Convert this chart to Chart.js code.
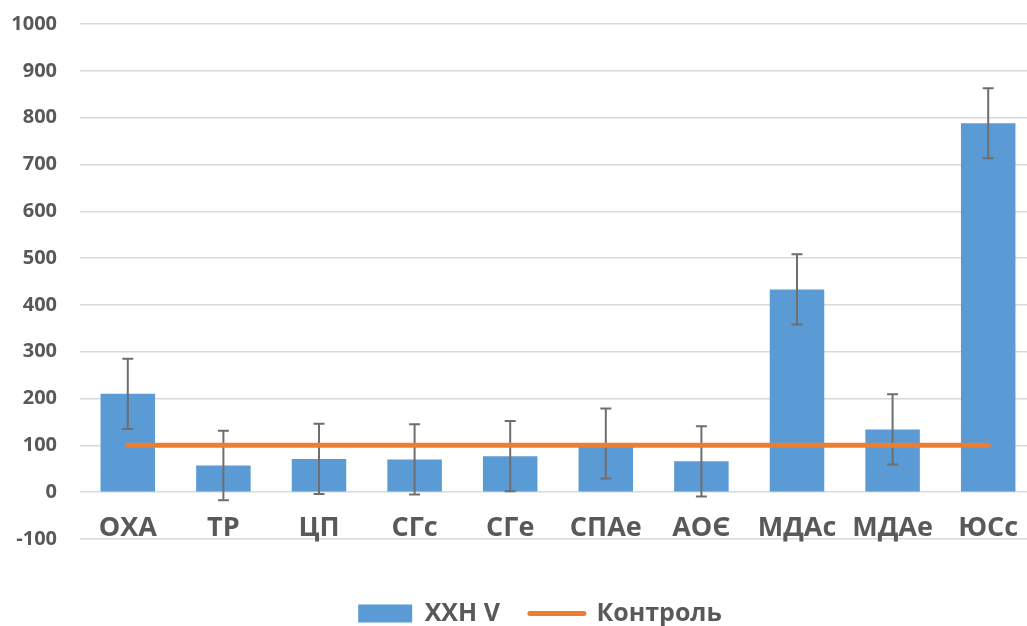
<!DOCTYPE html>
<html><head><meta charset="utf-8">
<script src="https://cdn.jsdelivr.net/npm/chart.js@4"></script>
<style>html,body{margin:0;padding:0;overflow:hidden;background:#fff}#wrap{width:1084px;height:640px;position:relative}</style>
</head><body><div id="wrap"><canvas id="c" style="width:1084px;height:640px"></canvas></div>
<script>
const categories = ['ОХА','ТР','ЦП','СГс','СГе','СПАе','АОЄ','МДАс','МДАе','ЮСс'];
const seriesValues = [210, 57, 71, 70, 77, 104, 66, 433, 134, 788];
const errorValues = [75, 74, 75, 75, 75, 75, 75, 75, 75, 75];
const controlValues = [100, 100, 100, 100, 100, 100, 100, 100, 100, 100];
const seriesNames = ['ХХН V', 'Контроль'];
const yMin = -100, yMax = 1000, yStep = 100;

const TEXT = '#595959';
const BLUE = '#5B9BD5';
const ORANGE = '#ED7D31';

const errorBarPlugin = {
  id: 'errorBars',
  afterDatasetDraw(chart, args) {
    if (args.index !== 0) return;
    const ctx = chart.ctx, y = chart.scales.y;
    ctx.save();
    ctx.strokeStyle = '#6e6e6e';
    ctx.lineWidth = 2;
    args.meta.data.forEach((bar, i) => {
      const x = bar.x;
      const top = y.getPixelForValue(seriesValues[i] + errorValues[i]);
      const bot = y.getPixelForValue(seriesValues[i] - errorValues[i]);
      ctx.beginPath();
      ctx.moveTo(x, top); ctx.lineTo(x, bot);
      ctx.moveTo(x - 5.5, top); ctx.lineTo(x + 5.5, top);
      ctx.moveTo(x - 5.5, bot); ctx.lineTo(x + 5.5, bot);
      ctx.stroke();
    });
    ctx.restore();
  }
};

const noPad = (s) => { s.paddingTop = 0; s.paddingBottom = 0; s.paddingLeft = 0; s.paddingRight = 0; };

new Chart(document.getElementById('c'), {
  type: 'bar',
  data: {
    labels: categories,
    datasets: [
      { type: 'bar', label: seriesNames[0], data: seriesValues, backgroundColor: BLUE,
        categoryPercentage: 1, barPercentage: 0.57, xAxisID: 'x', yAxisID: 'y', order: 1 },
      { type: 'line', label: seriesNames[1], data: controlValues, borderColor: ORANGE, backgroundColor: ORANGE,
        borderWidth: 5, pointRadius: 0, borderCapStyle: 'round', tension: 0, xAxisID: 'x', yAxisID: 'y', order: 0 }
    ]
  },
  options: {
    responsive: false,
    animation: false,
    layout: { padding: { top: 24, right: 4, left: 0, bottom: 4 } },
    plugins: {
      tooltip: { enabled: false },
      legend: {
        position: 'bottom',
        labels: {
          usePointStyle: true, pointStyleWidth: 54, boxHeight: 18, padding: 30,
          color: TEXT, font: { family: 'Open Sans', size: 25, weight: 'bold' },
          generateLabels() {
            return [
              { text: seriesNames[0], fillStyle: BLUE, strokeStyle: BLUE, lineWidth: 0, pointStyle: 'rect', datasetIndex: 0, hidden: false, fontColor: TEXT },
              { text: seriesNames[1], fillStyle: ORANGE, strokeStyle: ORANGE, lineWidth: 5, lineCap: 'round', pointStyle: 'line', datasetIndex: 1, hidden: false, fontColor: TEXT }
            ];
          }
        }
      }
    },
    scales: {
      x: {
        position: { y: 0 }, offset: true,
        grid: { display: false }, border: { display: false },
        ticks: { font: { family: 'Open Sans', size: 27, weight: 'bold' }, color: TEXT, padding: 12, maxRotation: 0, autoSkip: false },
        afterFit: noPad
      },
      xb: {
        type: 'category', position: 'bottom',
        grid: { display: false }, border: { display: false },
        ticks: { display: false },
        afterFit(s) { noPad(s); s.height = 32; }
      },
      y: {
        min: yMin, max: yMax, position: 'left',
        ticks: { stepSize: yStep, font: { family: 'Open Sans', size: 20, weight: 'bold' }, color: TEXT, padding: 23,
                 callback: (v) => String(v) },
        grid: { color: '#d9d9d9', lineWidth: 1.5, drawTicks: false },
        border: { display: false },
        afterFit(s) { noPad(s); s.width = 80; }
      },
      yr: {
        type: 'linear', position: 'right', min: yMin, max: yMax,
        grid: { display: false }, border: { display: false },
        ticks: { display: false },
        afterFit(s) { noPad(s); s.width = 44; }
      }
    }
  },
  plugins: [errorBarPlugin]
});
</script>
</body></html>
